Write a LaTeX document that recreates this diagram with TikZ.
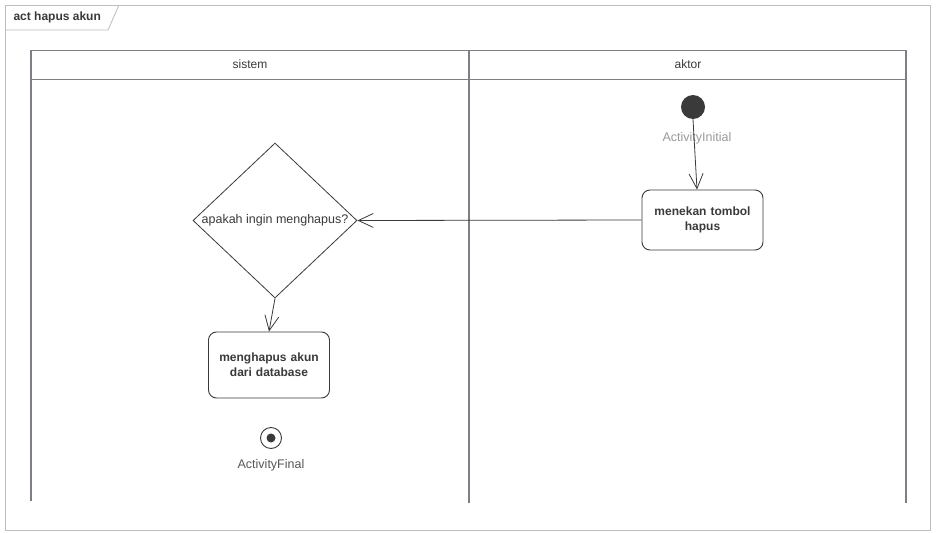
\documentclass[tikz,border=0pt]{standalone}
\usepackage{fontspec}
\setmainfont{Liberation Sans}
\usetikzlibrary{arrows.meta,shapes.geometric}
\definecolor{framegray}{HTML}{BDBDBD}
\definecolor{lanegray}{HTML}{7E7E86}
\definecolor{inkgray}{HTML}{3A3A3A}
\definecolor{labelgray}{HTML}{9A9A9A}
\tikzset{
  uifont/.style={font=\fontsize{12}{14}\selectfont},
  actionbox/.style={draw=inkgray, line width=0.9pt, rounded corners=8pt, fill=white,
    minimum width=121pt, text width=110pt, align=center, text=inkgray,
    font=\fontsize{12}{15}\selectfont\bfseries},
  decisionbox/.style={draw=inkgray, line width=0.8pt, diamond, aspect=1.15,
    minimum width=164pt, minimum height=155pt, inner sep=0pt, text=inkgray,
    font=\fontsize{12.5}{14}\selectfont},
  flow/.style={draw=inkgray, line width=0.8pt, -{Straight Barb[length=15pt,width=14pt]}},
  nodelabel/.style={text=labelgray, font=\fontsize{12.5}{14}\selectfont},
}
\begin{document}
\begin{tikzpicture}[x=1pt,y=-1pt]
  \useasboundingbox (0,0) rectangle (938,533);
  \fill[white] (0,0) rectangle (938,533);

  % diagram frame and its name tab
  \draw[framegray, line width=0.8pt] (5,5) rectangle (930,530);
  \draw[framegray, line width=0.8pt] (5,30) -- (108,30) -- (119,5);
  \node[anchor=west, text=inkgray, font=\fontsize{12}{14}\selectfont\bfseries] (title) at (10,17.5) {act hapus akun};

  % swimlanes
  \draw[lanegray, line width=0.9pt] (31,50) -- (906,50);
  \draw[lanegray, line width=0.9pt] (31,79) -- (906,79);
  \draw[lanegray, line width=1.1pt] (31,50) -- (31,501);
  \draw[lanegray, line width=1.1pt] (469,50) -- (469,503);
  \draw[lanegray, line width=1.1pt] (906,50) -- (906,503);
  \node[text=inkgray, uifont] (lane1) at (250,64.5) {sistem};
  \node[text=inkgray, uifont] (lane2) at (688,64.5) {aktor};

  % start
  \node[circle, fill=inkgray, minimum size=24pt, inner sep=0pt] (start) at (693,107) {};
  \node[nodelabel] (startlbl) at (697,138) {ActivityInitial};

  % actions and decision
  \node[actionbox, minimum height=60pt] (press) at (702.5,220) {menekan tombol\\hapus};
  \node[decisionbox] (ask) at (275,220.5) {apakah ingin menghapus?};
  \node[actionbox, minimum height=66pt] (delete) at (269,365) {menghapus akun\\dari database};

  % end
  \node[circle, draw=inkgray, line width=0.9pt, minimum size=21pt, inner sep=0pt] (final) at (271,438) {};
  \node[circle, fill=inkgray, minimum size=9pt, inner sep=0pt] (finaldot) at (final) {};
  \node[nodelabel, text=inkgray!85] (finallbl) at (271,465) {ActivityFinal};

  % control flow
  \draw[flow] (start.south) -- (press.north -| 697,0);
  \draw[flow] (press.west) -- (ask.east);
  \draw[flow] (ask.south) -- (delete.north);
\end{tikzpicture}
\end{document}
